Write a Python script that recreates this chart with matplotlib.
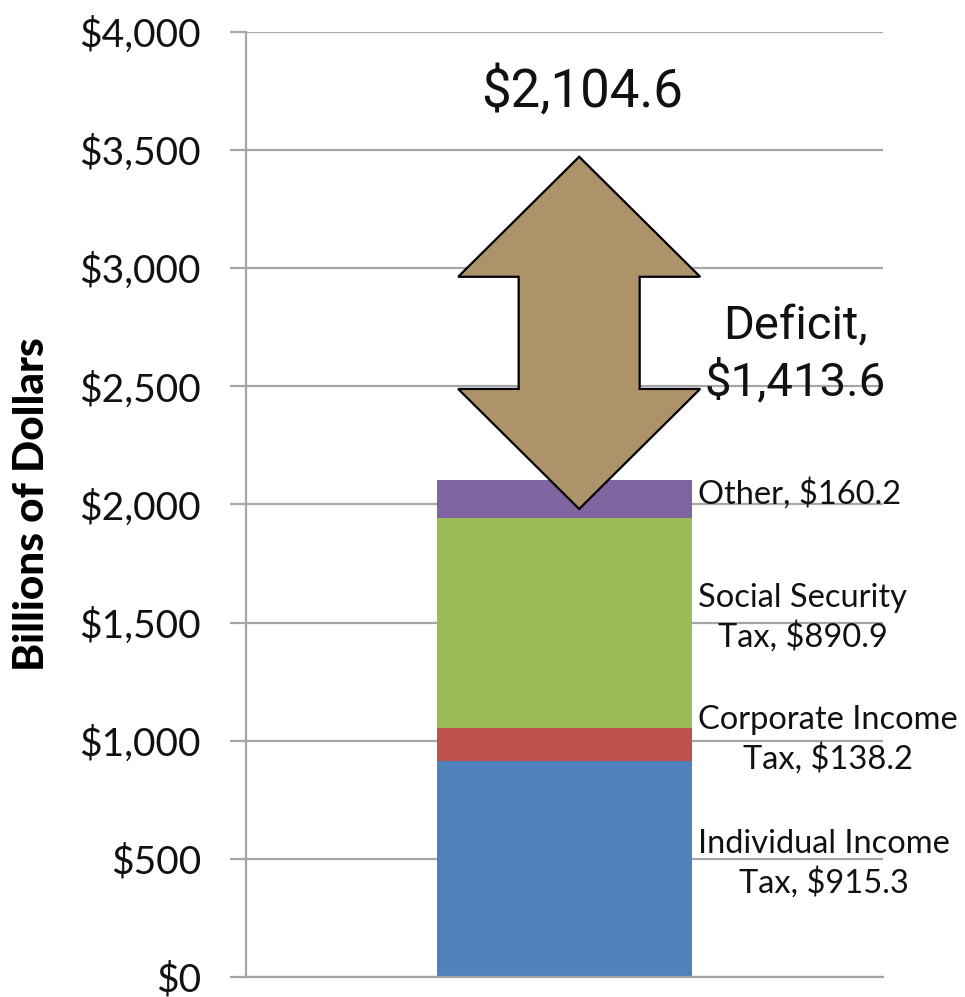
import numpy as np
import matplotlib.pyplot as plt
from matplotlib.patches import Polygon

# receipts (billions of dollars), bottom to top
sources = ['Individual Income\nTax', 'Corporate Income\nTax', 'Social Security\nTax', 'Other']
amounts = [915.3, 138.2, 890.9, 160.2]
colours = ['#4F81BD', '#C0504D', '#9BBB59', '#8064A2']
deficit = 1413.6
yticks = [0, 500, 1000, 1500, 2000, 2500, 3000, 3500, 4000]

total = sum(amounts)

fig = plt.figure(figsize=(9.65, 9.97), dpi=100)
ax = fig.add_axes([0.255, 0.0201, 0.66, 0.948])

ax.set_xlim(-0.5, 0.5)
ax.set_ylim(0, 4000)
ax.set_yticks(yticks)
ax.set_yticklabels(['${:,}'.format(t) for t in yticks], fontsize=28, family='Lato', color='#111111')
ax.set_xticks([])
ax.yaxis.grid(True, color='#a6a6a6', linewidth=1.6, zorder=0)
ax.set_axisbelow(True)
ax.tick_params(axis='y', length=11.5, width=1.6, color='#a6a6a6', pad=21)
for s in ['top', 'right']:
    ax.spines[s].set_visible(False)
for s in ['left', 'bottom']:
    ax.spines[s].set_color('#a6a6a6')
    ax.spines[s].set_linewidth(1.6)

ax.set_ylabel('Billions of Dollars', fontsize=30.5, family='Lato', fontweight='black', labelpad=20)

# stacked bar + labels at segment middles
bottom = 0
for name, val, c in zip(sources, amounts, colours):
    ax.bar(0, val, width=0.4, bottom=bottom, color=c, zorder=2)
    ax.text(0.21, bottom + val / 2 + 20, f'{name}, ${val:,.1f}', ha='left', va='center',
            multialignment='center', fontsize=23.5, family='Lato', color='#111111',
            linespacing=1.3, clip_on=False, zorder=3)
    bottom += val

# double-headed deficit arrow (shape)
cx = 0.023
head_w, shaft_w = 0.19, 0.095
top_tip = total + deficit - 47
bot_tip = total - 124
head_h = 508
pts = [(cx, top_tip), (cx + head_w, top_tip - head_h), (cx + shaft_w, top_tip - head_h),
       (cx + shaft_w, bot_tip + head_h), (cx + head_w, bot_tip + head_h), (cx, bot_tip),
       (cx - head_w, bot_tip + head_h), (cx - shaft_w, bot_tip + head_h),
       (cx - shaft_w, top_tip - head_h), (cx - head_w, top_tip - head_h)]
ax.add_patch(Polygon(pts, closed=True, facecolor='#AD9369', edgecolor='black', linewidth=1.6, zorder=4))

ax.text(cx + 0.005, 3745, f'${total:,.1f}', ha='center', va='center', fontsize=38,
        family='Roboto', color='#111111', clip_on=False)
ax.text(0.362, 2635, f'Deficit,\n${deficit:,.1f}', ha='center', va='center', fontsize=34,
        family='Roboto', color='#111111', linespacing=1.3, clip_on=False, zorder=5)

fig.savefig('out.png', dpi=100)
